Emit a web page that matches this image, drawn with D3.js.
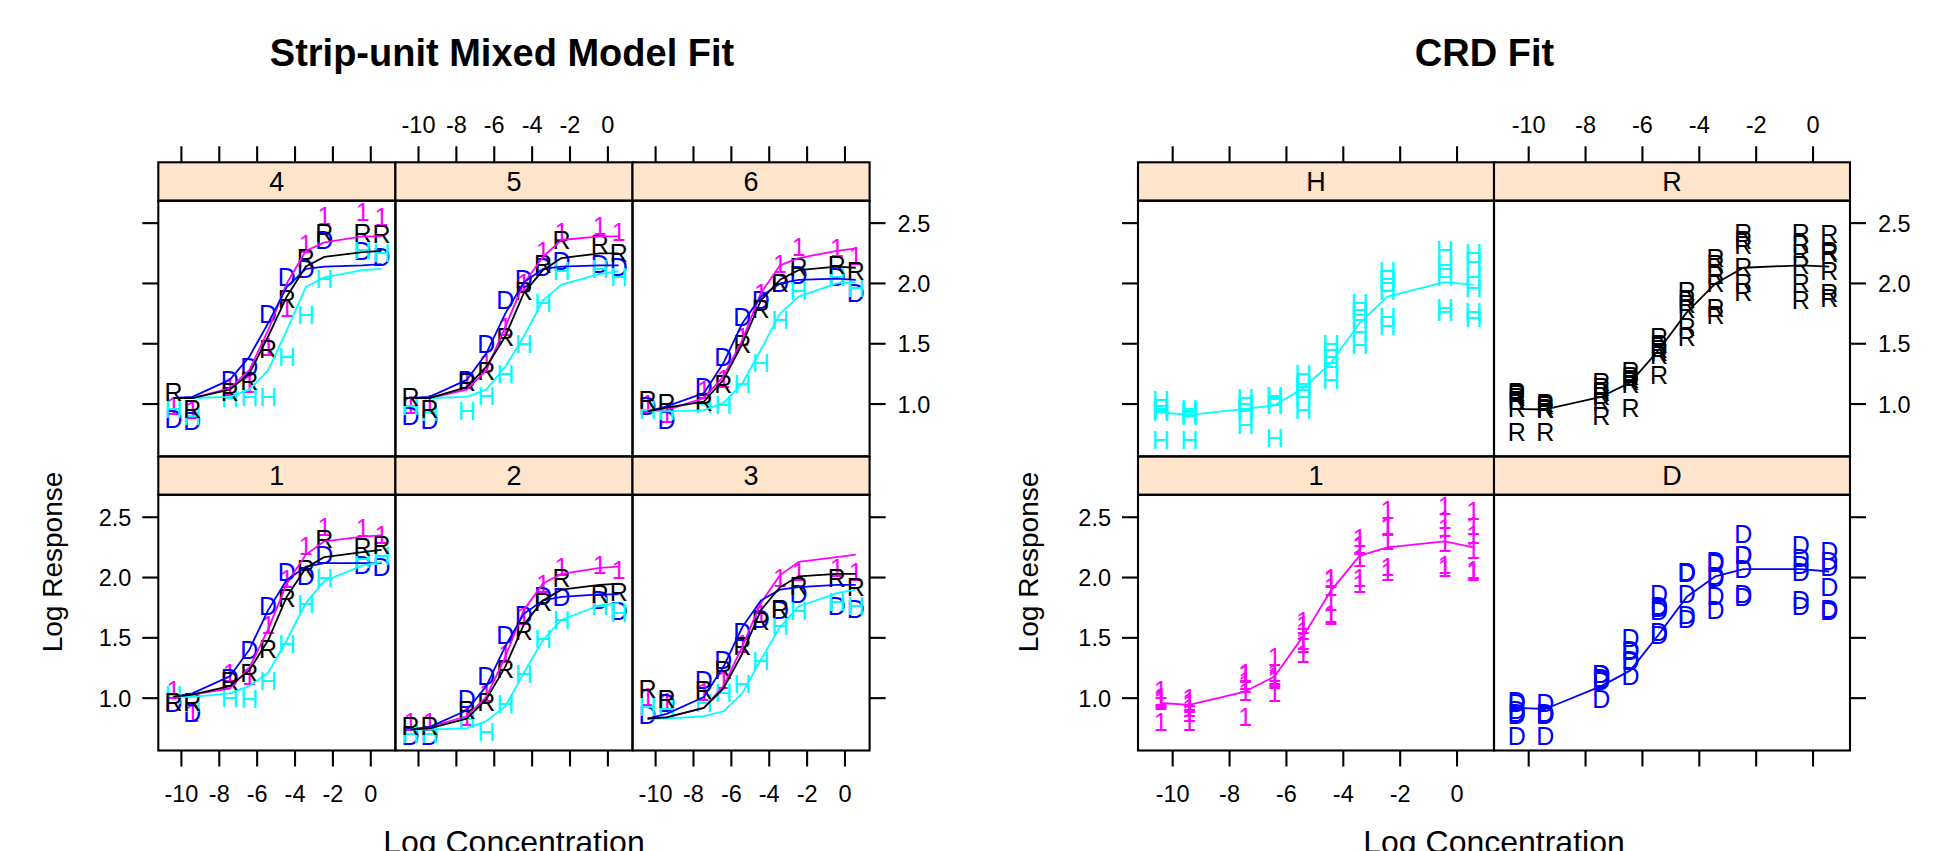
<!DOCTYPE html>
<html><head><meta charset="utf-8">
<script src="https://cdn.jsdelivr.net/npm/d3@7"></script>
<style>
body{margin:0;background:#fff}
svg{display:block}
text{font-family:"Liberation Sans",Arial,Helvetica,sans-serif}
</style>
</head><body>
<svg id="chart" width="1950" height="851"></svg>
<script>
// ---------------- data ----------------
const logConc = [-10.42, -9.42, -7.45, -6.42, -5.42, -4.44, -3.43, -2.45, -0.43, 0.57];
const xTickValues = [-10, -8, -6, -4, -2, 0];
const yTickValues = [1.0, 1.5, 2.0, 2.5];
const groupLabels = ["1", "D", "H", "R"];
const groupColors = ["#FF00FF", "#0000FF", "#00FFFF", "#000000"];
const stripUnits = ["1", "2", "3", "4", "5", "6"];

// observed log response, one row per strip unit 1..6
const obs1 = [
  [1.07, 0.88, 1.21, 1.18, 1.61, 1.99, 2.26, 2.42, 2.41, 2.35],
  [0.80, 0.80, 0.84, 1.04, 1.37, 1.68, 1.95, 2.09, 2.10, 2.06],
  [1.01, 0.97, 1.05, 1.15, 1.45, 1.70, 2.00, 2.05, 2.08, 2.05],
  [0.98, 0.95, 1.14, 1.17, 1.47, 1.80, 2.33, 2.56, 2.59, 2.55],
  [0.99, 1.00, 1.20, 1.34, 1.64, 2.00, 2.27, 2.43, 2.48, 2.43],
  [1.00, 0.92, 1.12, 1.21, 1.56, 1.92, 2.16, 2.30, 2.29, 2.23]
];
const obsD = [
  [0.96, 0.88, 1.17, 1.40, 1.76, 2.05, 2.01, 2.19, 2.10, 2.09],
  [0.69, 0.69, 0.99, 1.18, 1.52, 1.69, 1.85, 1.84, 1.81, 1.72],
  [0.86, 0.96, 1.15, 1.32, 1.55, 1.66, 1.73, 1.86, 1.76, 1.74],
  [0.88, 0.86, 1.20, 1.31, 1.75, 2.05, 2.12, 2.36, 2.27, 2.22],
  [0.90, 0.87, 1.20, 1.50, 1.86, 2.04, 2.14, 2.19, 2.16, 2.14],
  [0.98, 0.87, 1.14, 1.39, 1.72, 1.86, 2.00, 2.07, 2.05, 1.92]
];
const obsH = [
  [1.03, 0.96, 1.00, 0.99, 1.14, 1.45, 1.78, 2.00, 2.15, 2.18],
  [0.70, 0.70, 0.83, 0.72, 0.95, 1.20, 1.49, 1.65, 1.76, 1.71],
  [0.93, 0.91, 0.96, 1.04, 1.12, 1.31, 1.60, 1.72, 1.80, 1.76],
  [0.96, 0.90, 1.05, 1.06, 1.06, 1.39, 1.74, 2.04, 2.28, 2.25],
  [0.98, 0.93, 0.94, 1.07, 1.25, 1.50, 1.84, 2.10, 2.12, 2.05],
  [0.95, 0.94, 1.00, 0.99, 1.17, 1.34, 1.70, 1.94, 2.05, 1.96]
];
const obsR = [
  [0.97, 0.97, 1.14, 1.21, 1.41, 1.83, 2.07, 2.32, 2.25, 2.27],
  [0.77, 0.77, 0.90, 0.97, 1.24, 1.56, 1.80, 2.00, 1.86, 1.88],
  [1.08, 0.99, 1.07, 1.23, 1.43, 1.64, 1.74, 1.93, 2.00, 1.92],
  [1.10, 0.96, 1.10, 1.19, 1.46, 1.87, 2.21, 2.42, 2.42, 2.41],
  [1.06, 0.96, 1.18, 1.27, 1.56, 1.94, 2.16, 2.36, 2.33, 2.25],
  [1.03, 1.01, 1.02, 1.17, 1.50, 1.79, 2.00, 2.14, 2.15, 2.10]
];

// strip-unit mixed model fitted values, one row per strip unit 1..6
const fit1 = [
  [1.01, 1.03, 1.08, 1.25, 1.57, 1.95, 2.19, 2.30, 2.34, 2.35],
  [0.74, 0.76, 0.85, 1.01, 1.34, 1.73, 1.95, 2.03, 2.08, 2.09],
  [0.83, 0.84, 0.92, 1.10, 1.43, 1.79, 2.02, 2.13, 2.17, 2.19],
  [1.05, 1.05, 1.13, 1.28, 1.61, 2.00, 2.27, 2.34, 2.39, 2.39],
  [1.05, 1.05, 1.12, 1.28, 1.64, 2.00, 2.22, 2.36, 2.39, 2.39],
  [0.94, 0.95, 1.05, 1.23, 1.53, 1.92, 2.15, 2.21, 2.27, 2.29]
];
const fitD = [
  [1.01, 1.04, 1.18, 1.40, 1.73, 1.98, 2.09, 2.12, 2.12, 2.12],
  [0.74, 0.76, 0.90, 1.10, 1.43, 1.70, 1.81, 1.84, 1.86, 1.86],
  [0.83, 0.87, 1.01, 1.26, 1.59, 1.81, 1.90, 1.92, 1.94, 1.94],
  [1.05, 1.06, 1.20, 1.39, 1.67, 1.97, 2.12, 2.14, 2.15, 2.16],
  [1.05, 1.06, 1.20, 1.42, 1.75, 2.01, 2.12, 2.14, 2.15, 2.15],
  [0.94, 0.98, 1.09, 1.34, 1.67, 1.89, 2.00, 2.03, 2.04, 2.03]
];
const fitH = [
  [1.01, 1.01, 1.04, 1.10, 1.21, 1.48, 1.79, 1.97, 2.10, 2.13],
  [0.74, 0.74, 0.75, 0.81, 0.93, 1.21, 1.48, 1.65, 1.77, 1.79],
  [0.83, 0.83, 0.85, 0.89, 1.04, 1.32, 1.59, 1.76, 1.87, 1.90],
  [1.05, 1.05, 1.06, 1.12, 1.28, 1.61, 1.97, 2.05, 2.11, 2.12],
  [1.05, 1.05, 1.06, 1.12, 1.31, 1.56, 1.86, 1.99, 2.08, 2.10],
  [0.94, 0.94, 0.95, 1.01, 1.17, 1.45, 1.75, 1.89, 2.00, 2.01]
];
const fitR = [
  [1.01, 1.03, 1.10, 1.23, 1.48, 1.84, 2.08, 2.17, 2.21, 2.23],
  [0.74, 0.75, 0.83, 0.99, 1.26, 1.61, 1.81, 1.90, 1.94, 1.95],
  [0.83, 0.84, 0.92, 1.08, 1.37, 1.73, 1.92, 2.01, 2.03, 2.03],
  [1.05, 1.05, 1.12, 1.25, 1.56, 1.89, 2.14, 2.22, 2.26, 2.27],
  [1.05, 1.05, 1.14, 1.31, 1.56, 1.92, 2.11, 2.21, 2.25, 2.25],
  [0.94, 0.97, 1.02, 1.20, 1.50, 1.86, 2.03, 2.11, 2.14, 2.13]
];

// CRD fitted values, one per group
const crdFit1 = [0.96, 0.945, 1.055, 1.18, 1.51, 1.89, 2.18, 2.25, 2.30, 2.25];
const crdFitD = [0.92, 0.91, 1.10, 1.23, 1.53, 1.84, 2.01, 2.07, 2.07, 2.05];
const crdFitH = [0.93, 0.91, 0.96, 0.99, 1.13, 1.34, 1.67, 1.89, 2.01, 1.99];
const crdFitR = [0.96, 0.955, 1.06, 1.18, 1.45, 1.76, 2.00, 2.13, 2.15, 2.14];

const titles = ["Strip-unit Mixed Model Fit", "CRD Fit"];
const xLabel = "Log Concentration";
const yLabel = "Log Response";

// ---------------- drawing ----------------
const svg = d3.select("#chart");
svg.append("rect").attr("width", 1950).attr("height", 851).attr("fill", "#fff");

const obsByGroup = [obs1, obsD, obsH, obsR];
const fitByGroup = [fit1, fitD, fitH, fitR];
const crdFitByGroup = [crdFit1, crdFitD, crdFitH, crdFitR];

const X_DOMAIN = [-11.22, 1.30];
const Y_DOMAIN = [0.566, 2.686];
const rows = [
  {stripTop: 162.3, panelTop: 200.7, panelBottom: 456.4},
  {stripTop: 456.4, panelTop: 494.8, panelBottom: 750.5}
];
const TICK = 16, LW = 2.1, CURVE_W = 1.8;
const TICK_FONT = "23.5px", SYMBOL_FONT = "25px", STRIP_FONT = "27px";
let clipId = 0;

function lattice(opt) {
  const g = svg.append("g");
  const ce = opt.colEdges;
  const xScale = c => d3.scaleLinear().domain(X_DOMAIN).range([ce[c], ce[c + 1]]);
  const yScale = r => d3.scaleLinear().domain(Y_DOMAIN).range([rows[r].panelBottom, rows[r].panelTop]);
  const left = ce[0], right = ce[ce.length - 1];
  const nCols = ce.length - 1;

  // panels
  opt.panels.forEach(p => {
    const xs = xScale(p.col), ys = yScale(p.row), R = rows[p.row];
    const x0 = ce[p.col], x1 = ce[p.col + 1];
    const id = "clip" + (clipId++);
    g.append("clipPath").attr("id", id).append("rect")
      .attr("x", x0).attr("y", R.panelTop).attr("width", x1 - x0).attr("height", R.panelBottom - R.panelTop);
    const pg = g.append("g").attr("clip-path", `url(#${id})`);
    p.points.forEach(layer => {
      layer.values.forEach(arr => {
        pg.append("g").selectAll("text").data(arr.map((v, i) => ({x: logConc[i], y: v})))
          .join("text")
          .attr("x", d => xs(d.x)).attr("y", d => ys(d.y))
          .attr("dy", "0.36em").attr("text-anchor", "middle")
          .attr("fill", layer.color).style("font-size", SYMBOL_FONT)
          .text(layer.label);
      });
    });
    const line = d3.line().x((d, i) => xs(logConc[i])).y(d => ys(d));
    p.lines.forEach(l => {
      pg.append("path").attr("d", line(l.values)).attr("fill", "none")
        .attr("stroke", l.color).attr("stroke-width", CURVE_W).attr("stroke-linejoin", "round");
    });
    // strip
    g.append("rect").attr("x", x0).attr("y", R.stripTop).attr("width", x1 - x0).attr("height", R.panelTop - R.stripTop)
      .attr("fill", "#FFE5CC").attr("stroke", "#000").attr("stroke-width", LW);
    g.append("text").attr("x", (x0 + x1) / 2).attr("y", (R.stripTop + R.panelTop) / 2)
      .attr("dy", "0.36em").attr("text-anchor", "middle").style("font-size", STRIP_FONT).attr("fill", "#000")
      .text(p.strip);
    // border
    g.append("rect").attr("x", x0).attr("y", R.panelTop).attr("width", x1 - x0).attr("height", R.panelBottom - R.panelTop)
      .attr("fill", "none").attr("stroke", "#000").attr("stroke-width", LW);
  });

  const fmtX = d => String(d).replace("\u2212", "-");
  // x axes (top and bottom)
  for (let c = 0; c < nCols; c++) {
    const xs = xScale(c);
    const topY = rows[0].stripTop, botY = rows[1].panelBottom;
    const tk = g.append("g");
    tk.selectAll("line.t").data(xTickValues).join("line").attr("class", "t")
      .attr("x1", d => xs(d)).attr("x2", d => xs(d)).attr("y1", topY).attr("y2", topY - TICK)
      .attr("stroke", "#000").attr("stroke-width", LW);
    tk.selectAll("line.b").data(xTickValues).join("line").attr("class", "b")
      .attr("x1", d => xs(d)).attr("x2", d => xs(d)).attr("y1", botY).attr("y2", botY + TICK)
      .attr("stroke", "#000").attr("stroke-width", LW);
    if (opt.topLabelCols.includes(c)) {
      g.append("g").selectAll("text").data(xTickValues).join("text")
        .attr("x", d => xs(d)).attr("y", 133).attr("text-anchor", "middle")
        .style("font-size", TICK_FONT).text(fmtX);
    }
    if (opt.bottomLabelCols.includes(c)) {
      g.append("g").selectAll("text").data(xTickValues).join("text")
        .attr("x", d => xs(d)).attr("y", 802).attr("text-anchor", "middle")
        .style("font-size", TICK_FONT).text(fmtX);
    }
  }
  // y axes (left and right)
  rows.forEach((R, r) => {
    const ys = yScale(r);
    const tk = g.append("g");
    tk.selectAll("line.l").data(yTickValues).join("line").attr("class", "l")
      .attr("x1", left).attr("x2", left - TICK).attr("y1", d => ys(d)).attr("y2", d => ys(d))
      .attr("stroke", "#000").attr("stroke-width", LW);
    tk.selectAll("line.r").data(yTickValues).join("line").attr("class", "r")
      .attr("x1", right).attr("x2", right + TICK).attr("y1", d => ys(d)).attr("y2", d => ys(d))
      .attr("stroke", "#000").attr("stroke-width", LW);
    if (r === 1) {
      g.append("g").selectAll("text").data(yTickValues).join("text")
        .attr("x", left - TICK - 11).attr("y", d => ys(d)).attr("dy", "0.36em").attr("text-anchor", "end")
        .style("font-size", TICK_FONT).text(d => d3.format(".1f")(d));
    } else {
      g.append("g").selectAll("text").data(yTickValues).join("text")
        .attr("x", right + TICK + 12).attr("y", d => ys(d)).attr("dy", "0.36em").attr("text-anchor", "start")
        .style("font-size", TICK_FONT).text(d => d3.format(".1f")(d));
    }
  });

  // titles
  g.append("text").attr("x", opt.titleX).attr("y", 66).attr("text-anchor", "middle")
    .style("font-size", "38px").style("font-weight", "bold").text(opt.title);
  g.append("text").attr("x", (left + right) / 2).attr("y", 853).attr("text-anchor", "middle")
    .style("font-size", "32px").text(xLabel);
  g.append("text").attr("transform", `translate(${opt.yLabelX},562) rotate(-90)`).attr("text-anchor", "middle")
    .style("font-size", "28px").text(yLabel);
}

// Strip-unit mixed model: units 4,5,6 on top row, 1,2,3 on bottom row
const leftPanels = stripUnits.map((u, k) => ({
  row: k < 3 ? 1 : 0,
  col: k % 3,
  strip: u,
  points: groupLabels.map((lab, gi) => ({label: lab, color: groupColors[gi], values: [obsByGroup[gi][k]]})),
  lines: groupLabels.map((lab, gi) => ({color: groupColors[gi], values: fitByGroup[gi][k]}))
}));
lattice({
  colEdges: [158.3, 395.4, 632.5, 869.6],
  panels: leftPanels,
  topLabelCols: [1],
  bottomLabelCols: [0, 2],
  title: titles[0], titleX: 502,
  yLabelX: 62
});

// CRD: 1, D on bottom row; H, R on top row
const crdPanels = groupLabels.map((lab, gi) => ({
  row: gi < 2 ? 1 : 0,
  col: gi % 2,
  strip: lab,
  points: [{label: lab, color: groupColors[gi], values: obsByGroup[gi]}],
  lines: [{color: groupColors[gi], values: crdFitByGroup[gi]}]
}));
lattice({
  colEdges: [1138, 1494, 1850],
  panels: crdPanels,
  topLabelCols: [1],
  bottomLabelCols: [0],
  title: titles[1], titleX: 1484.5,
  yLabelX: 1038
});
</script>
</body></html>
